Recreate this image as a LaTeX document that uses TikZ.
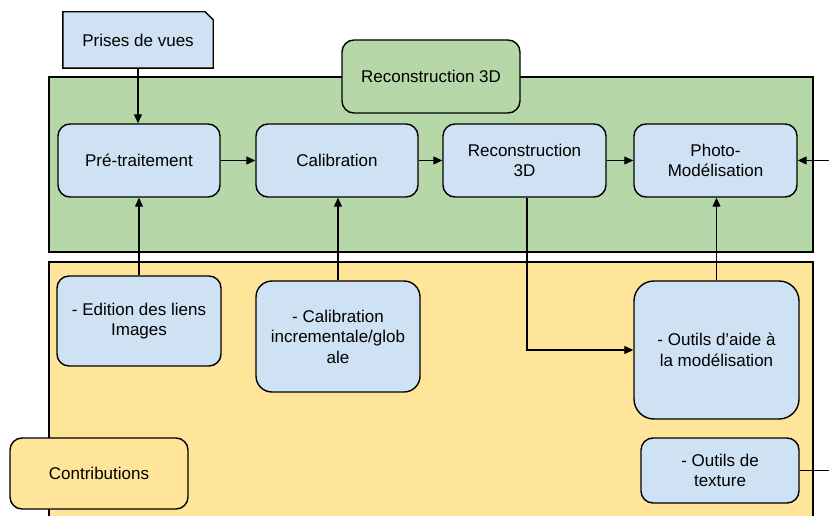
\documentclass[tikz,border=0pt]{standalone}
\usepackage{fontspec}
\setmainfont{Liberation Sans}
\usetikzlibrary{arrows.meta}
\definecolor{mygreen}{HTML}{B6D7A8}
\definecolor{myyellow}{HTML}{FFE599}
\definecolor{myblue}{HTML}{CFE2F3}

\begin{document}
\begin{tikzpicture}
				[x=1pt,y=-1pt,
				every node/.style={font=\fontsize{17}{20.5}\selectfont,align=center,inner sep=2pt},
				box/.style={draw,line width=1.4pt,rounded corners=12pt,fill=myblue,minimum width=162pt,minimum height=73pt},
				arr/.style={-{Triangle[length=9pt,width=8pt]},line width=1.2pt}]
				\clip (0,0) rectangle (829,516);
				\fill[white] (0,0) rectangle (829,516);
				% zones
				\draw[line width=1.4pt,fill=mygreen] (49,77) rectangle (813,252);
				\draw[line width=1.4pt,fill=myyellow] (49,262) rectangle (813,530);
				
				\node[draw=none,fill=none,minimum width=150pt,minimum height=56pt] (prises) at (138,40) {Prises de vues};
				\filldraw[fill=myblue,line width=1.4pt] (prises.south west) -- (prises.north west) -- ([xshift=-8pt]prises.north east) -- ([yshift=-8pt]prises.north east) -- (prises.south east) -- cycle;
				\node at (prises) {Prises de vues};
				
				\node[box,fill=mygreen,minimum width=178pt] (titre) at (431,76.5) {Reconstruction 3D};
				
				\node[box] (pre) at (139,160.5) {Pré-traitement};
				\node[box] (calib) at (337,160.5) {Calibration};
				\node[box,minimum width=163pt] (recon) at (524.5,160.5) {Reconstruction\\3D};
				\node[box,minimum width=163pt] (photo) at (715.5,160.5) {Photo-\\Modélisation};
				
				\node[box,minimum width=164pt,minimum height=90pt] (edit) at (139,321) {- Edition des liens\\Images};
				\node[box,rounded corners=16pt,minimum width=164pt,minimum height=111pt] (cinc) at (338,336.5) {- Calibration\\incrementale/glob\\ale};
				\node[box,rounded corners=20pt,minimum width=165pt,minimum height=138pt] (aide) at (716.5,350) {- Outils d'aide à\\la modélisation};
				\node[box,minimum width=158pt,minimum height=65pt] (texture) at (720,470.5) {- Outils de\\texture};
				\node[box,fill=myyellow,minimum width=178pt,minimum height=71pt] (contrib) at (99,473.5) {Contributions};
				
				\foreach \a/\b in {pre/calib,calib/recon,recon/photo}
				\draw[arr] (\a) -- (\b);
				\foreach \a/\b in {prises.south/pre.north,edit.north/pre.south,cinc.north/calib.south,aide.north/photo.south}
				\draw[arr] (\a) -- (\a |- \b);
				\draw[arr] ([xshift=2.5pt]recon.south) |- (aide.west);
				\draw[arr] (texture.east) -- ++(40,0) |- (photo.east);
				\end{tikzpicture}
\end{document}
